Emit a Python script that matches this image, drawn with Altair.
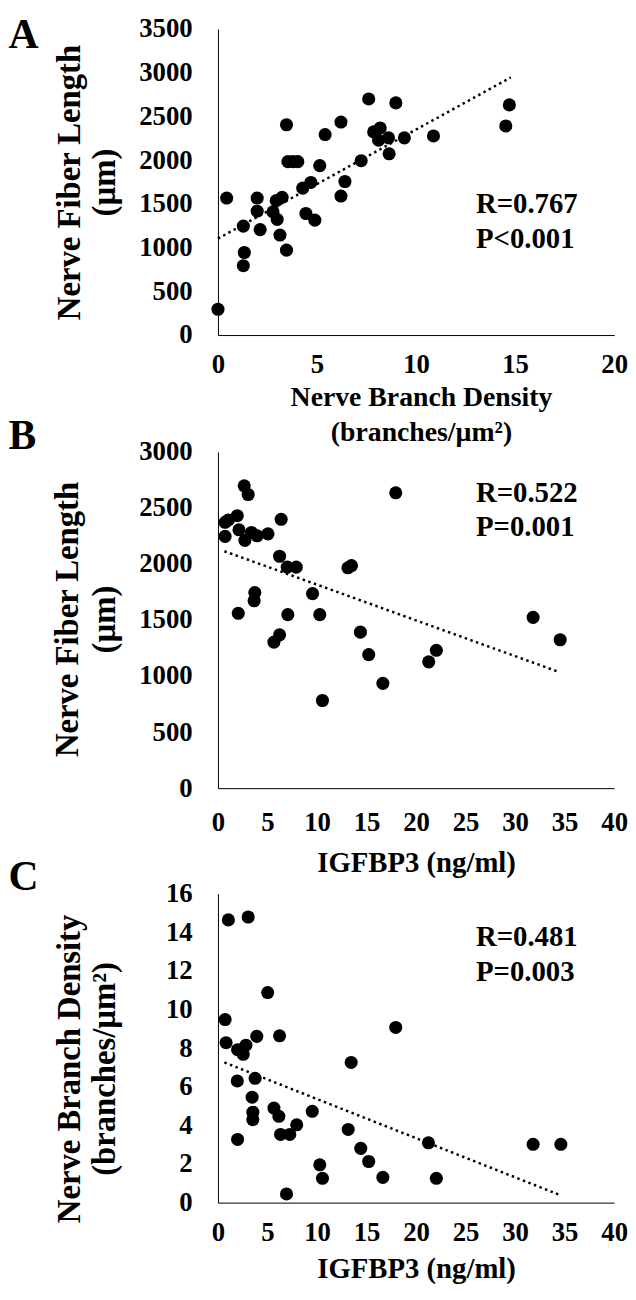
import altair as alt
import pandas as pd

# ---------------- data ----------------
A_density = [0, 0.44, 1.28, 1.33, 1.28, 1.98, 1.98, 2.13, 2.78, 2.94, 2.99, 3.24, 3.13,
             3.46, 3.46, 3.53, 3.78, 4.03, 4.28, 4.69, 4.44, 4.89, 5.14, 5.41, 6.21, 6.21,
             6.41, 7.23, 7.61, 7.86, 8.19, 8.11, 8.61, 8.64, 8.98, 9.41, 10.88, 14.53, 14.71]
A_length = [295, 1567, 1246, 944, 793, 1567, 1416, 1205, 1408, 1537, 1322, 1575, 1144,
            971, 2405, 1983, 1983, 1983, 1680, 1745, 1390, 1314, 1937, 2293, 2436, 1590,
            1756, 1994, 2700, 2323, 2368, 2228, 2255, 2073, 2655, 2255, 2277, 2391, 2632]
A_trend_x = [0, 14.78]
A_trend_y = [1103, 2946]
A_stats = ["R=0.767", "P<0.001"]

B_igfbp = [2.65, 3.05, 0.72, 1.05, 1.95, 0.72, 2.12, 2.72, 3.38, 3.95, 5.05, 6.38, 6.22,
           7.0, 7.9, 13.12, 13.48, 17.95, 3.72, 3.65, 2.05, 7.05, 9.55, 10.28, 6.22, 5.65,
           14.38, 15.22, 16.65, 10.55, 21.28, 22.05, 31.82, 34.55]
B_length = [2697, 2620, 2372, 2393, 2431, 2246, 2305, 2211, 2281, 2252, 2269, 2399, 2069,
            1972, 1972, 1966, 1986, 2635, 1745, 1672, 1560, 1548, 1736, 1548, 1368, 1303,
            1392, 1191, 935, 782, 1127, 1230, 1524, 1324]
B_trend_x = [0.65, 34.2]
B_trend_y = [2114, 1044]
B_stats = ["R=0.522", "P=0.001"]

C_igfbp = [1.05, 3.05, 5.02, 0.72, 17.95, 0.82, 3.92, 6.22, 1.98, 2.82, 2.55, 13.45, 1.95,
           3.75, 3.45, 3.52, 3.52, 5.65, 6.15, 9.52, 7.95, 6.32, 7.25, 1.98, 13.15, 21.25,
           31.82, 34.62, 14.42, 15.22, 10.28, 10.55, 16.65, 22.05, 6.92]
C_density = [14.64, 14.79, 10.88, 9.48, 9.07, 8.28, 8.61, 8.64, 7.92, 8.15, 7.68, 7.26, 6.3,
             6.44, 5.46, 4.68, 4.3, 4.9, 4.47, 4.73, 4.03, 3.53, 3.53, 3.27, 3.79, 3.1,
             3.02, 3.02, 2.81, 2.13, 1.96, 1.26, 1.31, 1.26, 0.45]
C_trend_x = [0.65, 34.4]
C_trend_y = [7.26, 0.42]
C_stats = ["R=0.481", "P=0.003"]

panel_letters = ["A", "B", "C"]
A_xticks = [0, 5, 10, 15, 20]
BC_xticks = [0, 5, 10, 15, 20, 25, 30, 35, 40]
A_yticks = [0, 500, 1000, 1500, 2000, 2500, 3000, 3500]
B_yticks = [0, 500, 1000, 1500, 2000, 2500, 3000]
C_yticks = [0, 2, 4, 6, 8, 10, 12, 14, 16]

FONT = "Liberation Serif"
W = 400


def panel(xs, ys, tx, ty, stats, letter, *, xdom, xticks, xtitle, ydom, yticks, ytitle,
          height, top, x_lab_pad, x_title_x, x_title_y, x_lh, x_title_size,
          y_title_x, y_title_y, y_lh, stat_y, letter_y):
    # `top` = empty band (px) kept above the plot area inside this panel's cell
    pts = pd.DataFrame({"x": xs, "y": ys})
    trend = pd.DataFrame({"x": tx, "y": ty})
    xenc = alt.X("x:Q",
                 scale=alt.Scale(domain=xdom, nice=False, zero=False),
                 axis=alt.Axis(values=xticks, title=xtitle, labelPadding=x_lab_pad,
                               titleX=x_title_x, titleY=x_title_y,
                               titleFontSize=x_title_size,
                               titleBaseline="alphabetic", titleLineHeight=x_lh,
                               format="d"))
    cell_h = height + top
    yscale = alt.Scale(domain=ydom, nice=False, zero=False, range=[cell_h, top])
    yenc = alt.Y("y:Q", scale=yscale,
                 axis=alt.Axis(values=yticks, title=ytitle, labelPadding=26,
                               titleX=y_title_x, titleY=top + y_title_y,
                               titleBaseline="alphabetic", titleLineHeight=y_lh,
                               format="d"))
    points = alt.Chart(pts).mark_circle(size=175, color="black", opacity=1).encode(x=xenc, y=yenc)
    line = alt.Chart(trend).mark_line(color="black", strokeDash=[2.5, 3.5],
                                      strokeWidth=2.5).encode(x=xenc, y=yenc)
    stat_txt = alt.Chart(pd.DataFrame({"label": ["\n".join(stats)]})).mark_text(
        font=FONT, fontWeight="bold", fontSize=29, align="left", baseline="alphabetic",
        lineBreak="\n", lineHeight=35, color="black"
    ).encode(text="label:N", x=alt.value(260.5), y=alt.value(top + stat_y))
    letter_txt = alt.Chart(pd.DataFrame({"label": [letter]})).mark_text(
        font=FONT, fontWeight="bold", fontSize=42, align="left", baseline="alphabetic",
        color="black"
    ).encode(text="label:N", x=alt.value(-211.5), y=alt.value(top + letter_y))
    return alt.layer(points, line, stat_txt, letter_txt).properties(width=W, height=cell_h)


chartA = panel(A_density, A_length, A_trend_x, A_trend_y, A_stats, panel_letters[0],
               xdom=[0, 20], xticks=A_xticks,
               xtitle=["Nerve Branch Density", "(branches/µm²)"],
               ydom=[0, 3500], yticks=A_yticks, ytitle=["Nerve Fiber Length", "(µm)"],
               height=309, top=0, x_lab_pad=17, x_title_x=205, x_title_y=71,
               x_lh=35, x_title_size=28, y_title_x=-139.5, y_title_y=154.5, y_lh=35,
               stat_y=185.7, letter_y=19)

chartB = panel(B_igfbp, B_length, B_trend_x, B_trend_y, B_stats, panel_letters[1],
               xdom=[0, 40], xticks=BC_xticks, xtitle="IGFBP3 (ng/ml)",
               ydom=[0, 3000], yticks=B_yticks, ytitle=["Nerve Fiber Length", "(µm)"],
               height=339.5, top=12, x_lab_pad=22, x_title_x=200, x_title_y=84.5,
               x_lh=37, x_title_size=29, y_title_x=-141.5, y_title_y=168.7, y_lh=37,
               stat_y=50.3, letter_y=-3)

chartC = panel(C_igfbp, C_density, C_trend_x, C_trend_y, C_stats, panel_letters[2],
               xdom=[0, 40], xticks=BC_xticks, xtitle="IGFBP3 (ng/ml)",
               ydom=[0, 16], yticks=C_yticks,
               ytitle=["Nerve Branch Density", "(branches/µm²)"],
               height=312, top=0, x_lab_pad=17, x_title_x=200, x_title_y=75.5,
               x_lh=37, x_title_size=29, y_title_x=-139.5, y_title_y=176.5, y_lh=35,
               stat_y=53.2, letter_y=-3.5)

chart = alt.vconcat(chartA, chartB, chartC, spacing=106, bounds="flush").properties(
    padding=0, background="white"
).configure_view(stroke=None).configure_axis(
    domainColor="black", domainWidth=1, ticks=False, tickSize=0, grid=False,
    labelFont=FONT, labelFontSize=27, labelFontWeight="bold", labelColor="black",
    labelFlush=False, labelOverlap=False,
    titleFont=FONT, titleFontWeight="bold", titleColor="black",
).configure_axisY(titleFontSize=33)

chart.save("out.html", embed_options={"renderer": "svg", "actions": False})
